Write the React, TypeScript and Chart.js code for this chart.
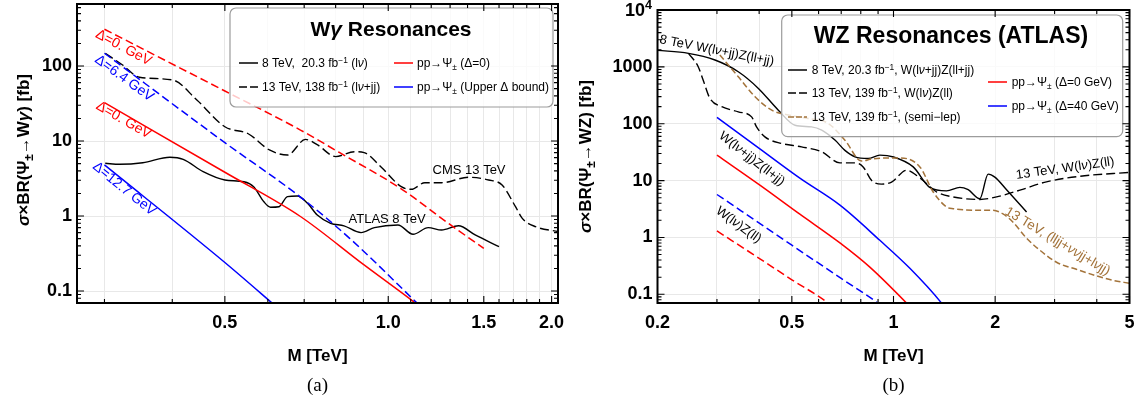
import React, { useEffect, useRef } from 'react';
import { Chart, registerables } from 'chart.js';

Chart.register(...registerables);

const FONT = '"Liberation Sans", Arial, Helvetica, sans-serif';
const SERIF = '"Liberation Serif", "DejaVu Serif", serif';
const RED = '#ff0000';
const BLUE = '#0000ff';
const BLACK = '#000000';
const BROWN = 'rgb(163,115,58)';
const GRID = '#e8e8e8';

// ---------------- Panel (a): W gamma resonances ----------------
const aXTickValues = [0.5, 1.0, 1.5, 2.0];
const aXTickLabels = ['0.5', '1.0', '1.5', '2.0'];
const aXGridValues = [0.3, 0.4, 0.5, 0.6, 0.7, 0.8, 0.9, 1.0, 1.1, 1.2, 1.3, 1.4, 1.5, 1.6, 1.7, 1.8, 1.9, 2.0];
const aYTickValues = [0.1, 1, 10, 100];
const aYTickLabels = ['0.1', '1', '10', '100'];

const aRedDashM = [0.3, 0.5, 0.689, 0.814, 1.053, 1.303, 1.5];
const aRedDashV = [309, 46.4, 14.0, 6.98, 2.34, 0.76, 0.37];
const aRedSolidM = [0.3, 0.5, 0.689, 0.9, 1.122, 1.16];
const aRedSolidV = [32.5, 3.83, 0.985, 0.226, 0.069, 0.057];
const aBlueDashM = [0.3, 0.5, 0.689, 0.85, 1.13, 1.17];
const aBlueDashV = [148, 9.5, 1.79, 0.5, 0.069, 0.054];
const aBlueSolidM = [0.3, 0.5, 0.63];
const aBlueSolidV = [4.8, 0.24, 0.057];
const aAtlasM = [0.301, 0.32, 0.353, 0.396, 0.419, 0.456, 0.5, 0.542, 0.565, 0.59, 0.607, 0.629, 0.652, 0.68, 0.71, 0.74, 0.783, 0.829, 0.891, 0.943, 1.042, 1.111, 1.185, 1.254, 1.347, 1.446, 1.6];
const aAtlasV = [5.05, 4.89, 5.14, 6.07, 5.7, 3.9, 3.02, 2.86, 2.46, 1.55, 1.31, 1.33, 1.81, 1.85, 1.48, 1.03, 0.8, 0.74, 0.6, 0.7, 0.76, 0.57, 0.7, 0.65, 0.74, 0.56, 0.39];
const aCmsM = [0.301, 0.324, 0.348, 0.401, 0.444, 0.5, 0.553, 0.604, 0.652, 0.704, 0.741, 0.8, 0.866, 0.903, 0.97, 1.057, 1.103, 1.168, 1.254, 1.406, 1.531, 1.621, 1.716, 1.766, 1.869, 2.06];
const aCmsV = [147.6, 103, 70.7, 65, 35.2, 15.5, 12.4, 7.6, 6.5, 10.5, 8.85, 6.2, 7.2, 7.0, 4.5, 2.46, 2.27, 2.78, 2.78, 3.28, 3.02, 2.59, 1.33, 0.93, 0.72, 0.62];

// ---------------- Panel (b): WZ resonances ----------------
const bXTickValues = [0.2, 0.5, 1, 2, 5];
const bXTickLabels = ['0.2', '0.5', '1', '2', '5'];
const bXGridValues = [0.2, 0.3, 0.4, 0.5, 0.6, 0.7, 0.8, 0.9, 1, 2, 3, 4, 5];
const bYTickValues = [0.1, 1, 10, 100, 1000, 10000];
const bYTickLabels = ['0.1', '1', '10', '100', '1000', ''];

const bBlackSolidM = [0.2, 0.247, 0.296, 0.347, 0.398, 0.456, 0.511, 0.572, 0.613, 0.672, 0.718, 0.769, 0.842, 0.911, 1.0, 1.144, 1.28, 1.436, 1.572, 1.664, 1.802, 1.907, 1.996, 2.162, 2.478];
const bBlackSolidV = [1950, 1730, 1320, 820, 418, 173, 94, 88, 77, 51, 34, 26.2, 24.5, 28, 26, 17.4, 7.6, 6.6, 7.6, 6.9, 4.8, 13, 11.5, 6.9, 2.8];
const bBlackDashM = [0.247, 0.264, 0.273, 0.286, 0.31, 0.347, 0.38, 0.393, 0.416, 0.466, 0.534, 0.613, 0.694, 0.769, 0.813, 0.862, 0.922, 0.987, 1.094, 1.2, 1.342, 1.503, 1.802, 2.02, 2.368, 2.838, 3.56, 5.0];
const bBlackDashV = [1729, 1004, 586, 279, 199, 162, 132, 88, 58.7, 45, 39.2, 32, 20.5, 20.5, 17.4, 10, 8.65, 9.4, 15.2, 11, 6.3, 5.16, 4.65, 5.16, 6.78, 9.5, 11.9, 13.9];
const bBrownM = [0.306, 0.347, 0.389, 0.436, 0.488, 0.559, 0.641, 0.718, 0.805, 0.862, 0.964, 1.045, 1.197, 1.311, 1.436, 1.503, 1.802, 1.96, 2.11, 2.26, 2.478, 2.71, 3.04, 3.48, 4.08, 4.47, 5.0];
const bBrownV = [1614, 670, 298, 173, 142, 124, 101, 51.4, 22, 24, 25, 25, 17.4, 6.3, 3.44, 3.2, 3.01, 3.0, 2.6, 1.85, 0.97, 0.6, 0.366, 0.275, 0.203, 0.176, 0.156];
const bBlueSolidM = [0.3, 0.402, 0.528, 0.694, 0.911, 1.118, 1.388, 1.42];
const bBlueSolidV = [129, 36, 11, 3.69, 0.89, 0.287, 0.07, 0.058];
const bRedSolidM = [0.3, 0.402, 0.528, 0.694, 0.851, 1.093, 1.12];
const bRedSolidV = [28, 8.3, 2.56, 0.8, 0.3, 0.07, 0.06];
const bBlueDashM = [0.3, 0.5, 0.7, 0.9, 0.93];
const bBlueDashV = [5.69, 0.73, 0.19, 0.07, 0.06];
const bRedDashM = [0.3, 0.4, 0.5, 0.641, 0.66];
const bRedDashV = [1.3, 0.43, 0.18, 0.07, 0.06];

// ---------------- helpers ----------------
type Part = { t: string; sup?: boolean; sub?: boolean; it?: boolean };

function fontStr(size: number, bold: boolean, it?: boolean) {
  return `${it ? 'italic ' : ''}${bold ? 'bold ' : ''}${size}px ${FONT}`;
}

function richWidth(ctx: CanvasRenderingContext2D, parts: Part[], size: number, bold: boolean) {
  let w = 0;
  for (const p of parts) {
    ctx.font = fontStr(p.sup || p.sub ? size * 0.7 : size, bold, p.it);
    w += ctx.measureText(p.t).width;
  }
  return w;
}

function drawRich(ctx: CanvasRenderingContext2D, parts: Part[], x: number, y: number, size: number, bold: boolean, color: string, align: string) {
  const w = richWidth(ctx, parts, size, bold);
  let cx = align === 'left' ? x : align === 'center' ? x - w / 2 : x - w;
  ctx.fillStyle = color;
  ctx.textAlign = 'left';
  ctx.textBaseline = 'alphabetic';
  for (const p of parts) {
    const s = p.sup || p.sub ? size * 0.7 : size;
    ctx.font = fontStr(s, bold, p.it);
    const dy = p.sup ? -size * 0.4 : p.sub ? size * 0.22 : 0;
    ctx.fillText(p.t, cx, y + dy);
    cx += ctx.measureText(p.t).width;
  }
}

function sample(ctx: CanvasRenderingContext2D, x1: number, x2: number, y: number, color: string, dash: number[]) {
  ctx.save();
  ctx.strokeStyle = color;
  ctx.lineWidth = 1.5;
  ctx.setLineDash(dash);
  ctx.beginPath();
  ctx.moveTo(x1, y);
  ctx.lineTo(x2, y);
  ctx.stroke();
  ctx.restore();
}

function box(ctx: CanvasRenderingContext2D, x: number, y: number, w: number, h: number, r: number) {
  ctx.save();
  ctx.beginPath();
  ctx.moveTo(x + r, y);
  ctx.lineTo(x + w - r, y);
  ctx.arcTo(x + w, y, x + w, y + r, r);
  ctx.lineTo(x + w, y + h - r);
  ctx.arcTo(x + w, y + h, x + w - r, y + h, r);
  ctx.lineTo(x + r, y + h);
  ctx.arcTo(x, y + h, x, y + h - r, r);
  ctx.lineTo(x, y + r);
  ctx.arcTo(x, y, x + r, y, r);
  ctx.closePath();
  ctx.fillStyle = 'rgba(255,255,255,0.78)';
  ctx.fill();
  ctx.strokeStyle = '#9c9c9c';
  ctx.lineWidth = 1.2;
  ctx.stroke();
  ctx.restore();
}

function labelOf(v: number, vals: number[], labels: string[]) {
  for (let i = 0; i < vals.length; i++) {
    if (Math.abs(v - vals[i]) < 1e-6 * vals[i]) return labels[i];
  }
  return '';
}

const series = (m: number[], v: number[]) => m.map((x, i) => ({ x, y: v[i] }));
const line = (m: number[], v: number[], color: string, dash: number[], width = 1.5) => ({
  data: series(m, v),
  borderColor: color,
  borderWidth: width,
  borderDash: dash,
  pointRadius: 0,
  fill: false,
  cubicInterpolationMode: 'monotone',
  clip: 0,
});

const DASH = [8, 4];
const BDASH = [6, 3];

// ---------------- legends ----------------
function legendA(ctx: CanvasRenderingContext2D) {
  box(ctx, 230, 8, 323, 99, 6);
  drawRich(ctx, [{ t: 'W' }, { t: 'γ', it: true }, { t: ' Resonances' }], 391, 36, 21, true, BLACK, 'center');
  const rows = [63, 87];
  sample(ctx, 239, 258, rows[0], BLACK, []);
  drawRich(ctx, [{ t: '8 TeV,  20.3 fb' }, { t: '−1', sup: true }, { t: ' (l' }, { t: 'ν', it: true }, { t: ')' }], 262, rows[0] + 4.3, 12, false, BLACK, 'left');
  sample(ctx, 239, 258, rows[1], BLACK, [8, 3]);
  drawRich(ctx, [{ t: '13 TeV, 138 fb' }, { t: '−1', sup: true }, { t: ' (l' }, { t: 'ν', it: true }, { t: '+jj)' }], 262, rows[1] + 4.3, 12, false, BLACK, 'left');
  sample(ctx, 394, 413, rows[0], RED, []);
  drawRich(ctx, [{ t: 'pp→Ψ' }, { t: '±', sub: true }, { t: ' (Δ=0)' }], 417, rows[0] + 4.3, 12, false, BLACK, 'left');
  sample(ctx, 394, 413, rows[1], BLUE, []);
  drawRich(ctx, [{ t: 'pp→Ψ' }, { t: '±', sub: true }, { t: ' (Upper Δ bound)' }], 417, rows[1] + 4.3, 12, false, BLACK, 'left');
}

function legendB(ctx: CanvasRenderingContext2D) {
  box(ctx, 211.7, 15, 341, 121.7, 6);
  drawRich(ctx, [{ t: 'WZ Resonances (ATLAS)' }], 381, 43, 23, true, BLACK, 'center');
  const rows = [70, 93, 117];
  sample(ctx, 218, 237, rows[0], BLACK, []);
  drawRich(ctx, [{ t: '8 TeV, 20.3 fb' }, { t: '−1', sup: true }, { t: ', W(l' }, { t: 'ν', it: true }, { t: '+jj)Z(ll+jj)' }], 241.7, rows[0] + 4.3, 12, false, BLACK, 'left');
  sample(ctx, 218, 237, rows[1], BLACK, [8, 3]);
  drawRich(ctx, [{ t: '13 TeV, 139 fb' }, { t: '−1', sup: true }, { t: ', W(l' }, { t: 'ν', it: true }, { t: ')Z(ll)' }], 241.7, rows[1] + 4.3, 12, false, BLACK, 'left');
  sample(ctx, 218, 237, rows[2], BROWN, [6, 2]);
  drawRich(ctx, [{ t: '13 TeV, 139 fb' }, { t: '−1', sup: true }, { t: ', (semi−lep)' }], 241.7, rows[2] + 4.3, 12, false, BLACK, 'left');
  sample(ctx, 418, 437, 82, RED, []);
  drawRich(ctx, [{ t: 'pp→Ψ' }, { t: '±', sub: true }, { t: ' (Δ=0 GeV)' }], 441.7, 86.3, 12, false, BLACK, 'left');
  sample(ctx, 418, 437, 106, BLUE, []);
  drawRich(ctx, [{ t: 'pp→Ψ' }, { t: '±', sub: true }, { t: ' (Δ=40 GeV)' }], 441.7, 110.3, 12, false, BLACK, 'left');
}

// ---------------- configs ----------------
const cfgA = {
  width: 570,
  padTop: 4,
  padRight: 12,
  yAxisWidth: 77,
  xAxisHeight: 108,
  xMin: 0.267, xMax: 2.055, yMin: 0.0692, yMax: 671,
  xTickValues: aXTickValues, xTickLabels: aXTickLabels, xGrid: aXGridValues,
  yTickValues: aYTickValues, yTickLabels: aYTickLabels,
  datasets: [
    line(aRedDashM, aRedDashV, RED, DASH),
    line(aBlueDashM, aBlueDashV, BLUE, DASH),
    line(aRedSolidM, aRedSolidV, RED, []),
    line(aBlueSolidM, aBlueSolidV, BLUE, []),
    line(aCmsM, aCmsV, BLACK, [9, 4], 1.4),
    line(aAtlasM, aAtlasV, BLACK, [], 1.4),
  ],
  curveLabels: [
    { parts: [{ t: 'Δ=0. GeV' }], m: 0.326, v: 180, angle: 28, size: 14, color: RED },
    { parts: [{ t: 'Δ=6.4 GeV' }], m: 0.327, v: 70, angle: 36, size: 14, color: BLUE },
    { parts: [{ t: 'Δ=0. GeV' }], m: 0.326, v: 19.5, angle: 30, size: 14, color: RED },
    { parts: [{ t: 'Δ=12.7 GeV' }], m: 0.327, v: 2.35, angle: 39, size: 14, color: BLUE },
    { parts: [{ t: 'CMS 13 TeV' }], m: 1.409, v: 4.24, angle: 0, size: 13, color: BLACK },
    { parts: [{ t: 'ATLAS 8 TeV' }], m: 0.995, v: 0.94, angle: 0, size: 13, color: BLACK },
  ],
  legend: legendA,
  yTitle: [{ t: 'σ', it: true }, { t: '×BR(Ψ' }, { t: '±', sub: true }, { t: '→W' }, { t: 'γ', it: true }, { t: ') [fb]' }],
  yTitleX: 23, yTitleY: 150,
  caption: '(a)',
  topLabel: null as any,
};

const cfgB = {
  width: 568,
  padTop: 10,
  padRight: 8.5,
  yAxisWidth: 87.5,
  xAxisHeight: 108,
  xMin: 0.2, xMax: 5, yMin: 0.0703, yMax: 10000,
  xTickValues: bXTickValues, xTickLabels: bXTickLabels, xGrid: bXGridValues,
  yTickValues: bYTickValues, yTickLabels: bYTickLabels,
  datasets: [
    line(bBlueSolidM, bBlueSolidV, BLUE, []),
    line(bRedSolidM, bRedSolidV, RED, []),
    line(bBlueDashM, bBlueDashV, BLUE, DASH),
    line(bRedDashM, bRedDashV, RED, DASH),
    line(bBrownM, bBrownV, BROWN, BDASH),
    line(bBlackDashM, bBlackDashV, BLACK, [9, 4], 1.4),
    line(bBlackSolidM, bBlackSolidV, BLACK, [], 1.4),
  ],
  curveLabels: [
    { parts: [{ t: '8 TeV W(l' }, { t: 'ν', it: true }, { t: '+jj)Z(ll+jj)' }], m: 0.3, v: 2000, angle: 11, size: 13, color: BLACK },
    { parts: [{ t: 'W(l' }, { t: 'ν', it: true }, { t: '+jj)Z(ll+jj)' }], m: 0.382, v: 24.8, angle: 38, size: 13, color: BLACK },
    { parts: [{ t: 'W(l' }, { t: 'ν', it: true }, { t: ')Z(ll)' }], m: 0.349, v: 1.71, angle: 36, size: 13, color: BLACK },
    { parts: [{ t: '13 TeV, W(l' }, { t: 'ν', it: true }, { t: ')Z(ll)' }], m: 3.22, v: 17, angle: -8, size: 13, color: BLACK },
    { parts: [{ t: '13 TeV, (lljj+' }, { t: 'νν', it: true }, { t: 'jj+l' }, { t: 'ν', it: true }, { t: 'jj)' }], m: 3.07, v: 0.88, angle: 31, size: 13.5, color: BROWN },
  ],
  legend: legendB,
  yTitle: [{ t: 'σ', it: true }, { t: '×BR(Ψ' }, { t: '±', sub: true }, { t: '→WZ) [fb]' }],
  yTitleX: 15, yTitleY: 156.5,
  caption: '(b)',
  topLabel: { value: 10000, parts: [{ t: '10' }, { t: '4', sup: true }] },
};

function overlay(cfg: any) {
  return {
    id: 'overlay',
    afterDatasetsDraw(chart: any) {
      const ctx: CanvasRenderingContext2D = chart.ctx;
      const { left, right, top, bottom } = chart.chartArea;
      const xs = chart.scales.x;
      const ys = chart.scales.y;
      ctx.save();
      for (const L of cfg.curveLabels) {
        const px = xs.getPixelForValue(L.m);
        const py = ys.getPixelForValue(L.v);
        ctx.save();
        ctx.translate(px, py);
        ctx.rotate((L.angle * Math.PI) / 180);
        drawRich(ctx, L.parts, 0, L.size * 0.35, L.size, false, L.color, 'center');
        ctx.restore();
      }
      cfg.legend(ctx);
      ctx.strokeStyle = BLACK;
      ctx.lineWidth = 1.1;
      ctx.setLineDash([]);
      ctx.beginPath();
      for (const v of cfg.xGrid.concat(cfg.xTickValues)) {
        if (v < cfg.xMin || v > cfg.xMax) continue;
        const major = cfg.xTickValues.some((t: number) => Math.abs(t - v) < 1e-9);
        const len = major ? 7 : 4;
        const px = xs.getPixelForValue(v);
        ctx.moveTo(px, bottom); ctx.lineTo(px, bottom - len);
        ctx.moveTo(px, top); ctx.lineTo(px, top + len);
      }
      const d0 = Math.floor(Math.log10(cfg.yMin));
      const d1 = Math.ceil(Math.log10(cfg.yMax));
      for (let d = d0; d <= d1; d++) {
        for (let k = 1; k <= 9; k++) {
          const v = k * Math.pow(10, d);
          if (v < cfg.yMin || v > cfg.yMax) continue;
          const len = k === 1 ? 7 : 4;
          const py = ys.getPixelForValue(v);
          ctx.moveTo(left, py); ctx.lineTo(left + len, py);
          ctx.moveTo(right, py); ctx.lineTo(right - len, py);
        }
      }
      ctx.stroke();
      ctx.lineWidth = 2;
      ctx.strokeRect(left, top, right - left, bottom - top);
      ctx.restore();
    },
    afterDraw(chart: any) {
      const ctx: CanvasRenderingContext2D = chart.ctx;
      const { left, right } = chart.chartArea;
      ctx.save();
      ctx.save();
      ctx.translate(cfg.yTitleX, cfg.yTitleY);
      ctx.rotate(-Math.PI / 2);
      drawRich(ctx, cfg.yTitle, 0, 17 * 0.35, 17, true, BLACK, 'center');
      ctx.restore();
      const cx = (left + right) / 2;
      drawRich(ctx, [{ t: 'M [TeV]' }], cx, 361, 17, true, BLACK, 'center');
      ctx.font = `19px ${SERIF}`;
      ctx.fillStyle = BLACK;
      ctx.textAlign = 'center';
      ctx.textBaseline = 'alphabetic';
      ctx.fillText(cfg.caption, cx, 391);
      if (cfg.topLabel) {
        const py = chart.scales.y.getPixelForValue(cfg.topLabel.value);
        drawRich(ctx, cfg.topLabel.parts, left - 5.5, py + 18 * 0.35, 18, true, BLACK, 'right');
      }
      ctx.restore();
    },
  };
}

function makeChart(canvas: HTMLCanvasElement, cfg: any) {
  return new Chart(canvas, {
    type: 'line',
    data: { datasets: cfg.datasets },
    options: {
      responsive: false,
      animation: false,
      devicePixelRatio: 1,
      events: [],
      layout: { autoPadding: false, padding: { left: 0, top: cfg.padTop, right: cfg.padRight, bottom: 0 } },
      plugins: { legend: { display: false }, tooltip: { enabled: false }, title: { display: false } },
      elements: { point: { radius: 0 } },
      scales: {
        x: {
          type: 'logarithmic',
          min: cfg.xMin,
          max: cfg.xMax,
          afterBuildTicks: (s: any) => {
            s.ticks = cfg.xGrid.map((v: number) => ({ value: v }));
          },
          afterFit: (s: any) => {
            s.height = cfg.xAxisHeight;
            s.paddingLeft = 0;
            s.paddingRight = 0;
          },
          ticks: {
            autoSkip: false,
            maxRotation: 0,
            minRotation: 0,
            padding: 9,
            color: BLACK,
            font: { family: FONT, size: 18, weight: 'bold' },
            callback: (v: any) => labelOf(Number(v), cfg.xTickValues, cfg.xTickLabels),
          },
          grid: { color: GRID, lineWidth: 1, drawTicks: false },
          border: { display: false },
        },
        y: {
          type: 'logarithmic',
          min: cfg.yMin,
          max: cfg.yMax,
          afterBuildTicks: (s: any) => {
            s.ticks = cfg.yTickValues.map((v: number) => ({ value: v }));
          },
          afterFit: (s: any) => {
            s.width = cfg.yAxisWidth;
            s.paddingTop = 0;
            s.paddingBottom = 0;
          },
          ticks: {
            autoSkip: false,
            padding: 5,
            color: BLACK,
            font: { family: FONT, size: 18, weight: 'bold' },
            callback: (v: any) => labelOf(Number(v), cfg.yTickValues, cfg.yTickLabels),
          },
          grid: { color: GRID, lineWidth: 1, drawTicks: false },
          border: { display: false },
        },
      },
    } as any,
    plugins: [overlay(cfg)],
  } as any);
}

export default function App() {
  const refA = useRef<HTMLCanvasElement>(null);
  const refB = useRef<HTMLCanvasElement>(null);
  useEffect(() => {
    const a = makeChart(refA.current as HTMLCanvasElement, cfgA);
    const b = makeChart(refB.current as HTMLCanvasElement, cfgB);
    return () => {
      a.destroy();
      b.destroy();
    };
  }, []);
  return (
    <div style={{ position: 'absolute', left: 0, top: 0, width: 1138, height: 411, background: '#fff' }}>
      <canvas ref={refA} width={570} height={411} style={{ position: 'absolute', left: 0, top: 0, width: 570, height: 411 }} />
      <canvas ref={refB} width={568} height={411} style={{ position: 'absolute', left: 570, top: 0, width: 568, height: 411 }} />
    </div>
  );
}
